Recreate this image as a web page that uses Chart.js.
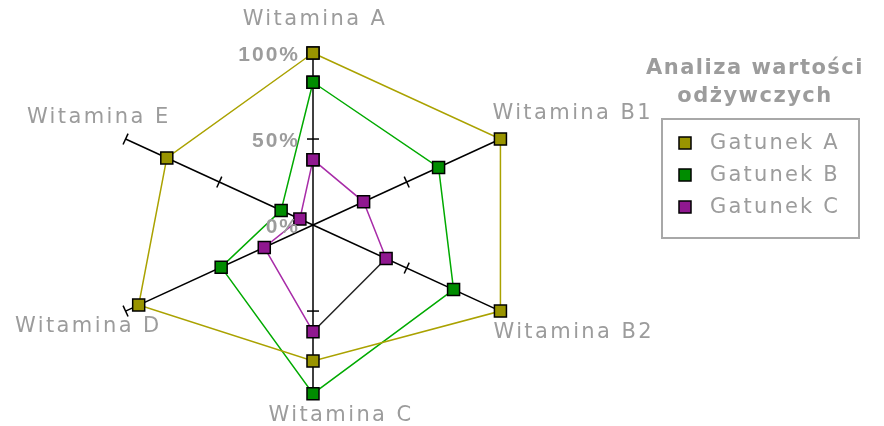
<!DOCTYPE html>
<html>
<head>
<meta charset="utf-8">
<script src="https://cdn.jsdelivr.net/npm/chart.js@4/dist/chart.umd.min.js"></script>
<style>
  body { margin: 0; background: #fff; }
</style>
</head>
<body>
<canvas id="radarChart" width="884" height="426"></canvas>
<script>
const axisLabels = ['Witamina A', 'Witamina B1', 'Witamina B2', 'Witamina C', 'Witamina D', 'Witamina E'];
const seriesNames = ['Gatunek A', 'Gatunek B', 'Gatunek C'];
const gatunekA = [1.00, 1.00, 1.00, 0.79, 0.93, 0.78];
const gatunekB = [0.83, 0.67, 0.75, 0.98, 0.49, 0.17];
const gatunekC = [0.38, 0.27, 0.39, 0.62, 0.26, 0.07];
const tickValues = [0, 0.5, 1];
const tickLabels = ['0%', '50%', '100%'];
const legendTitle = ['Analiza wartości', 'odżywczych'];

const lineColors = ['#aaa200', '#00aa00', '#a82ca8'];
const markerColors = ['#999400', '#008c00', '#901890'];
const grey = '#9c9c9c';

// label placement relative to the 100% end of each axis: [dx, dy, align]
const labelPlace = [
    [2, -33, 'center'],
    [-8, -25, 'left'],
    [-7, 21, 'left'],
    [28, 18, 'center'],
    [36, 15, 'right'],
    [45, -21, 'right']
];

// radar is stretched sideways in the picture, so it's a scatter with separate x / y scales
const toXY = (v, i) => {
    const a = i * Math.PI / 3;
    return { x: v * Math.sin(a), y: v * Math.cos(a) };
};

const seriesData = [gatunekA, gatunekB, gatunekC];

let datasets = [];

for (let i = 0; i < axisLabels.length; i++) {
    datasets.push({
        data: [toXY(0, i), toXY(1, i)],
        showLine: true,
        borderColor: '#000',
        borderWidth: 1.5,
        pointRadius: 0,
        order: 10
    });
}

for (let s = 0; s < seriesData.length; s++) {
    const vals = seriesData[s].concat(seriesData[s][0]);
    datasets.push({
        label: seriesNames[s],
        data: vals.map((v, i) => toXY(v, i % axisLabels.length)),
        showLine: true,
        borderColor: lineColors[s],
        borderWidth: 1.5,
        pointStyle: 'rect',
        pointRadius: 8.5,
        pointBackgroundColor: markerColors[s],
        pointBorderColor: '#000',
        pointBorderWidth: 1.5,
        clip: false,
        order: s,
        // in the picture the B2 -> C leg of Gatunek C comes out black
        segment: s === 2 ? { borderColor: ctx => ctx.p0DataIndex === 2 ? '#222' : undefined } : undefined
    });
}

function setSpacing(c, px) {
    if ('letterSpacing' in c) c.letterSpacing = px + 'px';
}

const decorations = {
    id: 'radar_decorations',
    beforeDatasetsDraw: (chart) => {
        const c = chart.ctx;
        const sx = chart.scales.x, sy = chart.scales.y;
        const cx = sx.getPixelForValue(0), cy = sy.getPixelForValue(0);
        c.save();
        c.strokeStyle = '#000';
        c.lineWidth = 1.5;
        for (let i = 0; i < axisLabels.length; i++) {
            const end = toXY(1, i);
            let dx = sx.getPixelForValue(end.x) - cx;
            let dy = sy.getPixelForValue(end.y) - cy;
            const len = Math.hypot(dx, dy);
            dx /= len; dy /= len;
            for (const t of tickValues.slice(1)) {
                const p = toXY(t, i);
                const px = sx.getPixelForValue(p.x), py = sy.getPixelForValue(p.y);
                c.beginPath();
                c.moveTo(px - dy * 6, py + dx * 6);
                c.lineTo(px + dy * 6, py - dx * 6);
                c.stroke();
            }
        }
        c.restore();
    },
    afterDraw: (chart) => {
        const c = chart.ctx;
        const sx = chart.scales.x, sy = chart.scales.y;
        const cx = sx.getPixelForValue(0);
        c.save();
        c.textBaseline = 'middle';

        // tick labels on the vertical axis
        c.fillStyle = grey;
        c.font = 'bold 21px "Liberation Sans", Arial, sans-serif';
        setSpacing(c, 2);
        c.textAlign = 'right';
        for (let k = 0; k < tickValues.length; k++) {
            c.fillText(tickLabels[k], cx - 13, sy.getPixelForValue(tickValues[k]) + 2);
        }

        // axis names
        c.font = '21px "DejaVu Sans", sans-serif';
        setSpacing(c, 2.4);
        for (let i = 0; i < axisLabels.length; i++) {
            const end = toXY(1, i);
            const px = sx.getPixelForValue(end.x), py = sy.getPixelForValue(end.y);
            const [dx, dy, align] = labelPlace[i];
            c.textAlign = align;
            c.fillText(axisLabels[i], px + dx, py + dy);
        }

        // legend
        c.textAlign = 'center';
        c.font = 'bold 21px "DejaVu Sans", sans-serif';
        setSpacing(c, 1.5);
        c.fillText(legendTitle[0], 755, 69);
        c.fillText(legendTitle[1], 755, 97);

        c.strokeStyle = '#a8a8a8';
        c.lineWidth = 2;
        c.strokeRect(662, 119, 197, 119);

        c.textAlign = 'left';
        c.font = '21px "DejaVu Sans", sans-serif';
        setSpacing(c, 2.2);
        for (let s = 0; s < seriesNames.length; s++) {
            const y = 143 + s * 32;
            c.fillStyle = markerColors[s];
            c.fillRect(679, y - 6, 12, 12);
            c.strokeStyle = '#000';
            c.lineWidth = 1.5;
            c.strokeRect(679, y - 6, 12, 12);
            c.fillStyle = grey;
            c.fillText(seriesNames[s], 710, y + 1);
        }
        c.restore();
    }
};

const config = {
    type: 'scatter',
    data: { datasets: datasets },
    options: {
        responsive: false,
        animation: false,
        layout: {
            padding: { left: 8, right: 268, top: 10, bottom: 3 }
        },
        scales: {
            x: { type: 'linear', min: -1.4, max: 1.4, display: false },
            y: { type: 'linear', min: -1.11, max: 1.25, display: false }
        },
        elements: {
            line: { tension: 0 }
        },
        plugins: {
            legend: { display: false },
            tooltip: { enabled: false }
        }
    },
    plugins: [decorations]
};

const radarChart = new Chart(document.getElementById('radarChart').getContext('2d'), config);
</script>
</body>
</html>
